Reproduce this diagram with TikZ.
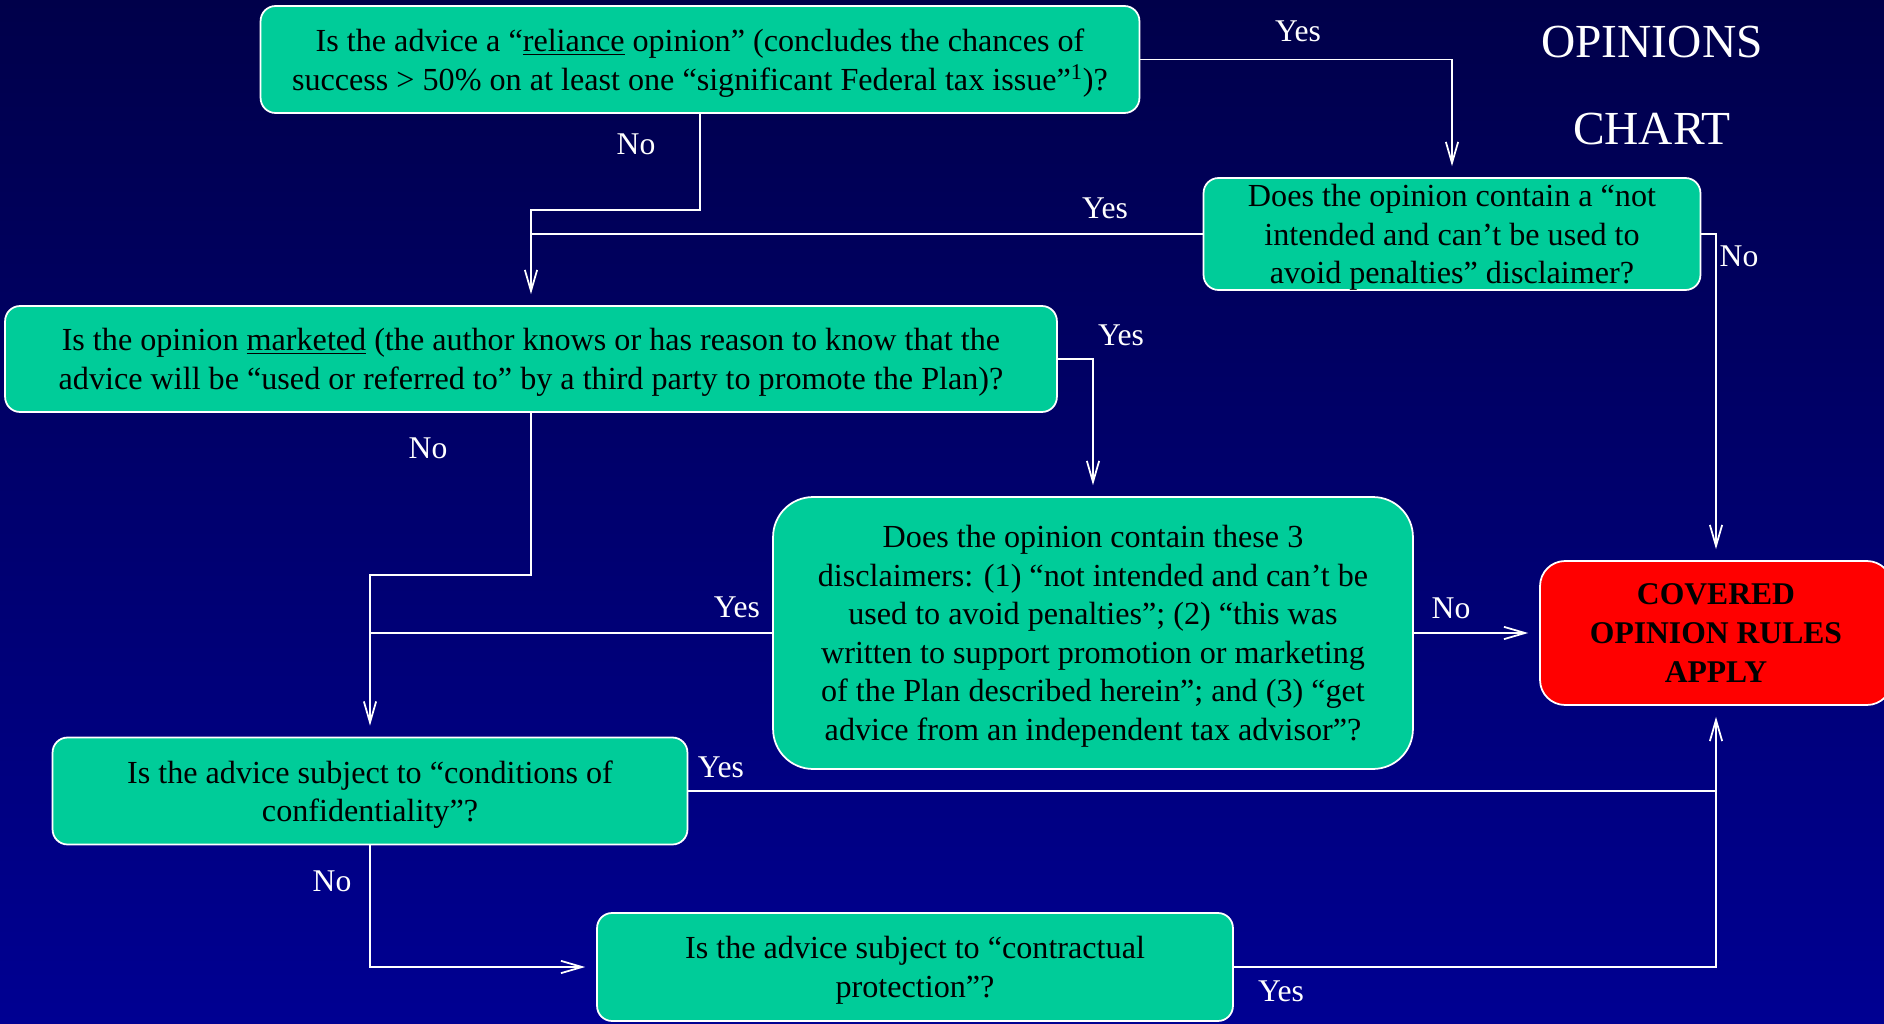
\documentclass[tikz,border=0pt]{standalone}
\usepackage{fontspec}
\setmainfont{Liberation Serif}
\usetikzlibrary{arrows.meta}

\definecolor{boxgreen}{RGB}{0,204,153}
\definecolor{bgtop}{RGB}{0,0,74}
\definecolor{bgbottom}{RGB}{0,0,146}

\tikzset{
  boxbase/.style={draw=white, line width=1pt, fill=boxgreen, rounded corners=0.3cm,
    align=center, text=black, inner sep=0pt},
  qbox/.style={boxbase, font=\fontsize{18.3}{21.9}\selectfont, text depth=-0.04cm},
  endbox/.style={boxbase, fill=red, font=\fontsize{18}{22}\selectfont\bfseries},
  link/.style={draw=white, line width=1pt},
  arr/.style={link, -{Straight Barb[length=12pt, width=7pt]}, shorten >=0.22cm},
  lbl/.style={text=white, font=\fontsize{18}{22}\selectfont},
  ttl/.style={text=white, font=\fontsize{27}{30}\selectfont}
}

\begin{document}
\begin{tikzpicture}[x=0.02cm, y=-0.02cm]
\useasboundingbox (0,0) rectangle (1884,1024);
\shade[top color=bgtop, bottom color=bgbottom] (0,0) rectangle (1884,1024);

% title
\node[ttl] (ttl1) at (1652,42) {OPINIONS};
\node[ttl] (ttl2) at (1652,129) {CHART};

% questions
\node[qbox, minimum width=17.58cm, minimum height=2.14cm] (rel) at (700,59.5)
  {Is the advice a “\underline{reliance} opinion” (concludes the chances of\\
   success > 50\% on at least one “significant Federal tax issue”\textsuperscript{1})?};
\node[qbox, minimum width=9.94cm, minimum height=2.24cm] (nint) at (1452,234)
  {Does the opinion contain a “not\\ intended and can’t be used to\\ avoid penalties” disclaimer?};
\node[qbox, minimum width=21.04cm, minimum height=2.12cm] (mkt) at (531,359)
  {Is the opinion \underline{marketed} (the author knows or has reason to know that the\\
   advice will be “used or referred to” by a third party to promote the Plan)?};
\node[qbox, rounded corners=0.8cm, minimum width=12.8cm, minimum height=5.44cm] (disc) at (1093,633)
  {Does the opinion contain these 3\\ disclaimers: (1) “not intended and can’t be\\
   used to avoid penalties”; (2) “this was\\ written to support promotion or marketing\\
   of the Plan described herein”; and (3) “get\\ advice from an independent tax advisor”?};
\node[qbox, minimum width=12.7cm, minimum height=2.14cm] (conf) at (370,791)
  {Is the advice subject to “conditions of\\ confidentiality”?};
\node[qbox, minimum width=12.72cm, minimum height=2.16cm] (ctr) at (915,967)
  {Is the advice subject to “contractual\\ protection”?};
\node[endbox, rounded corners=0.5cm, minimum width=7.04cm, minimum height=2.88cm] (cov) at (1716,633)
  {COVERED\\ OPINION RULES\\ APPLY};

% connectors
\draw[arr] (rel.east) -| (nint.north);
\draw[arr] (rel.south) -- ++(0,96) -| (mkt.north);
\draw[link] (nint.west) -- (nint.west -| mkt.north);
\draw[arr] (nint.east) -| (cov.north);
\draw[arr] (mkt.east) -| (disc.north);
\draw[arr] (mkt.south) -- ++(0,162) -| (conf.north);
\draw[link] (disc.west) -- (disc.west -| conf.north);
\draw[arr] (disc.east) -- (cov.west);
\draw[arr] (conf.east) -| (cov.south);
\draw[arr] (conf.south) |- (ctr.west);
\draw[link] (ctr.east) -| (conf.east -| cov.south);

% labels
\node[lbl] (y1) at (1298,31) {Yes};
\node[lbl] (n1) at (636,144) {No};
\node[lbl] (y2) at (1105,208) {Yes};
\node[lbl] (n2) at (1739,256) {No};
\node[lbl] (y3) at (1121,335) {Yes};
\node[lbl] (n3) at (428,448) {No};
\node[lbl] (y4) at (737,607) {Yes};
\node[lbl] (n4) at (1451,608) {No};
\node[lbl] (y5) at (721,767) {Yes};
\node[lbl] (n5) at (332,881) {No};
\node[lbl] (y6) at (1281,991) {Yes};
\end{tikzpicture}
\end{document}
